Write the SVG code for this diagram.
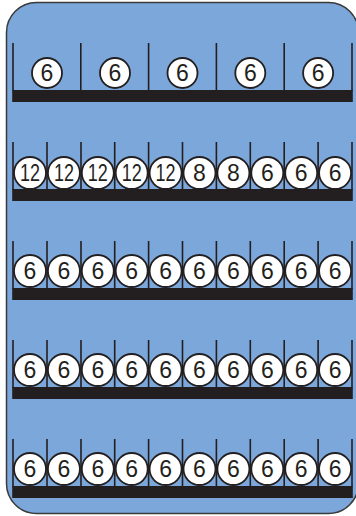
<svg xmlns="http://www.w3.org/2000/svg" width="356" height="516" viewBox="0 0 356 516">
<style>
.bg{fill:#7ba7da;stroke:#3a3a3a;stroke-width:1.5}
.bar{fill:#231f20}
.div{stroke:#231f20;stroke-width:1.6;fill:none}
.ball{fill:#fff;stroke:#231f20;stroke-width:1.8}
.num{font-family:"Liberation Sans",Arial,sans-serif;font-size:23px;fill:#231f20;text-anchor:middle}
</style>
<defs>
<g id="b6"><circle class="ball" r="16"/><text class="num" y="8.2">6</text></g>
<g id="b8"><circle class="ball" r="16"/><text class="num" y="8.2">8</text></g>
<g id="b12"><circle class="ball" r="16"/><text class="num" x="0" y="8.2" textLength="20" lengthAdjust="spacingAndGlyphs">12</text></g>
<g id="shelf10">
<path class="div" d="M13,0V48M47,0V48M81,0V48M114.7,0V48M148.6,0V48M182.5,0V48M216.4,0V48M250.3,0V48M284.2,0V48M318.1,0V48M352,0V48"/>
<rect class="bar" x="12.2" y="47" width="340.6" height="12"/>
</g>
</defs>
<rect class="bg" x="6.5" y="2.5" width="352" height="511" rx="30" ry="30"/>
<g id="shelf1">
<path class="div" d="M13,43V91M80.8,43V91M148.6,43V91M216.4,43V91M284.2,43V91M352,43V91"/>
<rect class="bar" x="12.2" y="90" width="340.6" height="12"/>
</g>
<use id="shelf2" href="#shelf10" y="142"/>
<use id="shelf3" href="#shelf10" y="241"/>
<use id="shelf4" href="#shelf10" y="340"/>
<use id="shelf5" href="#shelf10" y="439"/>
<g id="row1">
<g id="n1-1" transform="translate(47,73)"><circle class="ball" r="15"/><text class="num" y="8.2">6</text></g>
<g id="n1-2" transform="translate(115,73)"><circle class="ball" r="15"/><text class="num" y="8.2">6</text></g>
<g id="n1-3" transform="translate(182.5,73)"><circle class="ball" r="15"/><text class="num" y="8.2">6</text></g>
<g id="n1-4" transform="translate(250.3,73)"><circle class="ball" r="15"/><text class="num" y="8.2">6</text></g>
<g id="n1-5" transform="translate(318.1,73)"><circle class="ball" r="15"/><text class="num" y="8.2">6</text></g>
</g>
<g id="row2">
<use id="n2-1" href="#b12" x="30" y="173"/>
<use id="n2-2" href="#b12" x="63.9" y="173"/>
<use id="n2-3" href="#b12" x="97.8" y="173"/>
<use id="n2-4" href="#b12" x="131.7" y="173"/>
<use id="n2-5" href="#b12" x="165.6" y="173"/>
<use id="n2-6" href="#b8" x="199.5" y="173"/>
<use id="n2-7" href="#b8" x="233.4" y="173"/>
<use id="n2-8" href="#b6" x="267.3" y="173"/>
<use id="n2-9" href="#b6" x="301.2" y="173"/>
<use id="n2-10" href="#b6" x="335.1" y="173"/>
</g>
<g id="row3">
<use href="#b6" x="30" y="271"/><use href="#b6" x="63.9" y="271"/><use href="#b6" x="97.8" y="271"/><use href="#b6" x="131.7" y="271"/><use href="#b6" x="165.6" y="271"/><use href="#b6" x="199.5" y="271"/><use href="#b6" x="233.4" y="271"/><use href="#b6" x="267.3" y="271"/><use href="#b6" x="301.2" y="271"/><use href="#b6" x="335.1" y="271"/>
</g>
<g id="row4">
<use href="#b6" x="30" y="370"/><use href="#b6" x="63.9" y="370"/><use href="#b6" x="97.8" y="370"/><use href="#b6" x="131.7" y="370"/><use href="#b6" x="165.6" y="370"/><use href="#b6" x="199.5" y="370"/><use href="#b6" x="233.4" y="370"/><use href="#b6" x="267.3" y="370"/><use href="#b6" x="301.2" y="370"/><use href="#b6" x="335.1" y="370"/>
</g>
<g id="row5">
<use href="#b6" x="30" y="469"/><use href="#b6" x="63.9" y="469"/><use href="#b6" x="97.8" y="469"/><use href="#b6" x="131.7" y="469"/><use href="#b6" x="165.6" y="469"/><use href="#b6" x="199.5" y="469"/><use href="#b6" x="233.4" y="469"/><use href="#b6" x="267.3" y="469"/><use href="#b6" x="301.2" y="469"/><use href="#b6" x="335.1" y="469"/>
</g>
</svg>
